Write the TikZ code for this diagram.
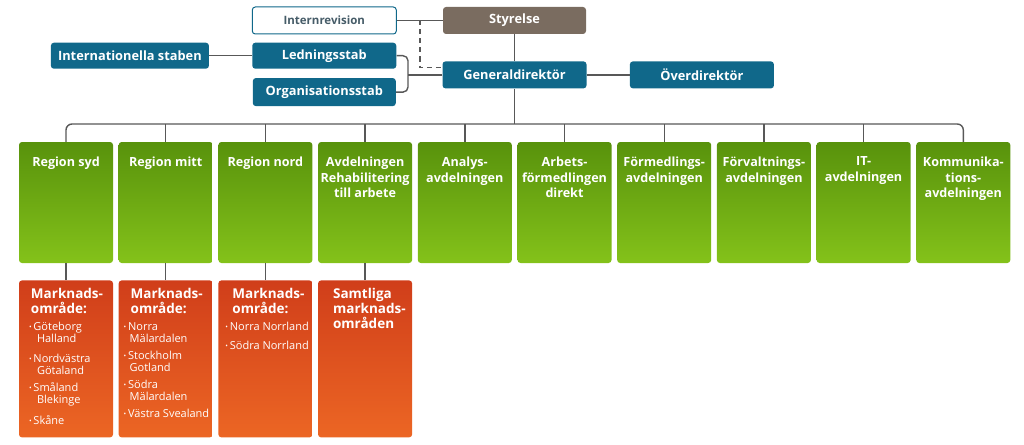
\documentclass[tikz,border=0pt]{standalone}
\usepackage{fontspec}
\setmainfont{Open Sans}
\usetikzlibrary{positioning,calc}
\definecolor{afTeal}{RGB}{16,104,138}
\definecolor{afBrown}{RGB}{122,108,96}
\definecolor{afRevText}{RGB}{70,92,104}
\definecolor{afGreenTop}{RGB}{88,146,12}
\definecolor{afGreenBot}{RGB}{132,194,26}
\definecolor{afOrangeTop}{RGB}{208,62,26}
\definecolor{afOrangeBot}{RGB}{236,102,36}
\definecolor{afLine}{RGB}{88,88,88}

\newcommand{\deptlabel}[1]{\parbox[c][121pt][t]{94pt}{\vspace*{15pt}\centering #1}}
\newcommand{\arealabel}[2]{\parbox[c][157pt][t]{94pt}{\raggedright\leftskip=#1\vspace*{8pt}#2}}
\newcommand{\areahead}{\bfseries\fontsize{13.5}{15}\selectfont}
\newcommand{\dotmark}{{\fontsize{7}{7}\selectfont\raisebox{1pt}{•}}\,}

\begin{document}
\begin{tikzpicture}[
    x=1pt, y=-1pt,
    link/.style={draw=afLine, line width=1.4pt},
    top node/.style={rectangle, rounded corners=3pt, fill=afTeal, text=white, minimum height=27pt, inner sep=0pt, font=\bfseries\fontsize{12.8}{14}\selectfont},
    board node/.style={top node, fill=afBrown},
    audit node/.style={top node, fill=white, draw=afTeal, line width=1pt, text=afRevText, font=\bfseries\fontsize{11.5}{12}\selectfont},
    dept node/.style={rectangle, rounded corners=3pt, top color=afGreenTop, bottom color=afGreenBot, text=white, minimum width=94pt, minimum height=121pt, inner sep=0pt, font=\bfseries\fontsize{12.6}{15.5}\selectfont},
    area node/.style={rectangle, rounded corners=3pt, top color=afOrangeTop, bottom color=afOrangeBot, text=white, minimum width=94pt, minimum height=157pt, inner sep=0pt, font=\fontsize{11}{12}\selectfont}
]
  \useasboundingbox (0,0) rectangle (1024,444);

  % ledning
  \node[board node, minimum width=143pt] (styrelse) at (514.5,20.5) {Styrelse};
  \node[audit node, minimum width=144pt, left=46pt of styrelse] (internrevision) {Internrevision};
  \node[top node, minimum width=144pt, below=27pt of styrelse] (generaldir) {Generaldirektör};
  \node[top node, minimum width=144pt, right=43pt of generaldir] (overdir) {Överdirektör};
  \node[top node, minimum width=144pt, minimum height=26pt, below=8pt of internrevision] (ledningsstab) {Ledningsstab};
  \node[top node, minimum width=143pt, minimum height=28pt, below=9pt of ledningsstab] (organisationsstab) {Organisationsstab};
  \node[top node, minimum width=158pt, minimum height=26pt, left=43pt of ledningsstab] (intstaben) {Internationella staben};

  % avdelningar
  \node[dept node] (regionsyd) at (66,202.5) {\deptlabel{Region syd}};
  \node[dept node, right=5.3pt of regionsyd] (regionmitt) {\deptlabel{Region mitt}};
  \node[dept node, right=5.3pt of regionmitt] (regionnord) {\deptlabel{Region nord}};
  \node[dept node, right=5.3pt of regionnord] (rehab) {\deptlabel{Avdelningen\\Rehabilitering\\till arbete}};
  \node[dept node, right=5.3pt of rehab] (analys) {\deptlabel{Analys-\\avdelningen}};
  \node[dept node, right=5.3pt of analys] (arbets) {\deptlabel{Arbets-\\förmedlingen\\direkt}};
  \node[dept node, right=5.3pt of arbets] (formedling) {\deptlabel{Förmedlings-\\avdelningen}};
  \node[dept node, right=5.3pt of formedling] (forvaltning) {\deptlabel{Förvaltnings-\\avdelningen}};
  \node[dept node, right=5.3pt of forvaltning] (itavd) {\deptlabel{IT-\\avdelningen}};
  \node[dept node, right=5.3pt of itavd] (kommunikation) {\deptlabel{Kommunika-\\tions-\\avdelningen}};

  % marknadsområden
  \node[area node, below=17pt of regionsyd] (omradesyd) {\arealabel{12pt}{%
    {\areahead Marknads-\\område:\par}\vspace{5pt}
    \hspace*{-2pt}\dotmark Göteborg\\\hspace*{6pt}Halland\par\vspace{8pt}
    \hspace*{-2pt}\dotmark Nordvästra\\\hspace*{6pt}Götaland\par\vspace{5pt}
    \hspace*{-2pt}\dotmark Småland\\\hspace*{6pt}Blekinge\par\vspace{9pt}
    \hspace*{-2pt}\dotmark Skåne}};
  \node[area node, below=17pt of regionmitt] (omrademitt) {\arealabel{12pt}{%
    {\areahead Marknads-\\område:\par}\vspace{5pt}
    \hspace*{-7pt}\dotmark Norra\\\hspace*{-1pt}Mälardalen\par\vspace{5pt}
    \hspace*{-7pt}\dotmark Stockholm\\\hspace*{-1pt}Gotland\par\vspace{5pt}
    \hspace*{-7pt}\dotmark Södra\\\hspace*{-1pt}Mälardalen\par\vspace{5pt}
    \hspace*{-7pt}\dotmark Västra Svealand}};
  \node[area node, below=17pt of regionnord] (omradenord) {\arealabel{14pt}{%
    {\areahead Marknads-\\område:\par}\vspace{5pt}
    \hspace*{-7pt}\dotmark Norra Norrland\par\vspace{7pt}
    \hspace*{-7pt}\dotmark Södra Norrland}};
  \node[area node, below=17pt of rehab] (omraderehab) {\arealabel{15pt}{%
    {\areahead Samtliga\\marknads-\\områden\par}}};

  % linjer
  \coordinate (bus) at (0,124);
  \coordinate (brace) at (408,0);
  \draw[link] (internrevision) -- (styrelse);
  \draw[link, dash pattern=on 5pt off 4pt] ($(internrevision.east)!0.5!(styrelse.west)$) |- ([yshift=7.5pt]generaldir.west);
  \draw[link] (styrelse.south) -- (styrelse.south |- generaldir.north);
  \draw[link] (generaldir) -- (overdir);
  \draw[link] (intstaben) -- (ledningsstab);
  \draw[link, rounded corners=5pt] (ledningsstab.east) -| (brace |- organisationsstab.east) -- (organisationsstab.east);
  \draw[link] (generaldir.west) -- (generaldir.west -| brace);
  \draw[link] (generaldir.south) -- (generaldir.south |- bus);
  \draw[link, rounded corners=6pt] (regionsyd.north) -- (regionsyd.north |- bus) -- (kommunikation.north |- bus) -- (kommunikation.north);
  \draw[link] (regionmitt.north) -- (regionmitt.north |- bus);
  \draw[link] (regionnord.north) -- (regionnord.north |- bus);
  \draw[link] (rehab.north) -- (rehab.north |- bus);
  \draw[link] (analys.north) -- (analys.north |- bus);
  \draw[link] (arbets.north) -- (arbets.north |- bus);
  \draw[link] (formedling.north) -- (formedling.north |- bus);
  \draw[link] (forvaltning.north) -- (forvaltning.north |- bus);
  \draw[link] (itavd.north) -- (itavd.north |- bus);
  \draw[link] (regionsyd) -- (omradesyd);
  \draw[link] (regionmitt) -- (omrademitt);
  \draw[link] (regionnord) -- (omradenord);
  \draw[link] (rehab) -- (omraderehab);
\end{tikzpicture}
\end{document}
